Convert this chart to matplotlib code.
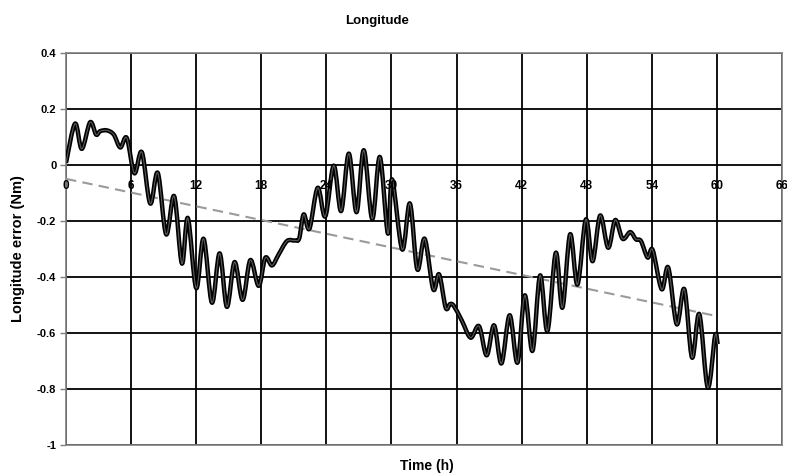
import numpy as np
import matplotlib.pyplot as plt
from matplotlib.path import Path
from matplotlib.patches import PathPatch

# Longitude error
time_h = [0, 0.83, 1.45, 2.22, 2.77, 3.14, 3.76, 4.4, 5.0, 5.6, 6.3, 6.99, 7.76, 8.46, 9.23,
          9.97, 10.68, 11.23, 12.0, 12.68, 13.45, 14.16, 14.83, 15.54, 16.28, 16.99, 17.76,
          18.37, 18.99, 19.6, 20.37, 21.1, 21.5, 21.91, 22.44, 23.2, 23.9, 24.68, 25.36,
          26.07, 26.78, 27.45, 28.23, 28.93, 29.67, 30.06, 30.99, 31.7, 32.38, 33.06, 33.85,
          34.39, 35.0, 35.4, 35.76, 36.5, 37.3, 38.07, 38.78, 39.46, 40.14, 40.9, 41.62, 42.29,
          43.0, 43.7, 44.38, 45.15, 45.76, 46.47, 47.15, 47.92, 48.54, 49.24, 49.98, 50.63,
          51.31, 52.01, 52.54, 53.0, 53.62, 54.08, 54.91, 55.52, 56.3, 57.0, 57.71, 58.38,
          59.16, 59.83, 60.07]
error_nm = [0.007, 0.147, 0.057, 0.152, 0.108, 0.12, 0.123, 0.108, 0.062, 0.096, -0.03, 0.045,
            -0.138, -0.029, -0.248, -0.112, -0.352, -0.19, -0.44, -0.264, -0.492, -0.316, -0.507,
            -0.347, -0.482, -0.34, -0.432, -0.332, -0.359, -0.32, -0.272, -0.27, -0.262, -0.177,
            -0.228, -0.082, -0.184, -0.003, -0.165, 0.04, -0.169, 0.052, -0.193, 0.028, -0.245,
            -0.052, -0.302, -0.138, -0.373, -0.264, -0.444, -0.391, -0.51, -0.497, -0.504, -0.557,
            -0.617, -0.576, -0.68, -0.573, -0.709, -0.537, -0.706, -0.466, -0.664, -0.395, -0.593,
            -0.314, -0.51, -0.248, -0.427, -0.195, -0.344, -0.181, -0.296, -0.197, -0.264, -0.24,
            -0.266, -0.272, -0.331, -0.304, -0.444, -0.367, -0.569, -0.444, -0.688, -0.533,
            -0.795, -0.611, -0.64]

# linear trend (grey dashed)
trend_x = [0, 60]
trend_y = [-0.05, -0.54]

x_ticks = list(range(0, 67, 6))
y_ticks = [-1, -0.8, -0.6, -0.4, -0.2, 0, 0.2, 0.4]
y_labels = ["-1", "-0.8", "-0.6", "-0.4", "-0.2", "0", "0.2", "0.4"]


def smooth_path(x, y):
    """Excel style smoothed line: Catmull-Rom segments as cubic Bezier curves."""
    pts = np.column_stack([x, y])
    n = len(pts)
    verts = [pts[0]]
    codes = [Path.MOVETO]
    for i in range(n - 1):
        p0 = pts[max(i - 1, 0)]
        p1 = pts[i]
        p2 = pts[i + 1]
        p3 = pts[min(i + 2, n - 1)]
        verts += [p1 + (p2 - p0) / 6, p2 - (p3 - p1) / 6, p2]
        codes += [Path.CURVE4] * 3
    return Path(verts, codes)


plt.rcParams['font.family'] = ['Liberation Sans', 'DejaVu Sans']
plt.rcParams['font.weight'] = 'bold'

fig = plt.figure(figsize=(7.87, 4.75), dpi=100)
ax = fig.add_axes([0.0839, 0.0632, 0.9097, 0.8257])

ax.plot(trend_x, trend_y, color="#9a9a9a", lw=1.5, dashes=(5, 3), zorder=3)
curve = smooth_path(time_h, error_nm)
ax.add_patch(PathPatch(curve, fill=False, edgecolor="black", lw=3.2, joinstyle="round", zorder=4))
ax.add_patch(PathPatch(curve, fill=False, edgecolor="#5a5a5a", lw=0.8, joinstyle="round", zorder=5))

ax.set_xlim(0, 66)
ax.set_ylim(-1, 0.4)
ax.set_xticks(x_ticks)
ax.set_yticks(y_ticks)
ax.set_yticklabels(y_labels)
ax.grid(True, color="black", lw=1.3)
ax.tick_params(axis="x", bottom=False, labelbottom=False)
ax.tick_params(axis="y", length=4, width=1, color="#808080", labelsize=8, pad=3)
for s in ax.spines.values():
    s.set_color("#808080")
    s.set_linewidth(1.2)

# x labels sit along the zero line, as in the original
for t in x_ticks:
    ax.annotate(str(t), xy=(t, 0), xytext=(0, -24), textcoords="offset pixels",
                ha="center", va="baseline", fontsize=8.5, fontweight="bold", zorder=6)

fig.text(0.479, 0.955, "Longitude", ha="center", va="center", fontsize=9.5, fontweight="bold")
fig.text(0.543, 0.019, "Time (h)", ha="center", va="center", fontsize=10, fontweight="bold")
fig.text(0.023, 0.476, "Longitude error (Nm)", ha="center", va="center", rotation=90,
         fontsize=10.5, fontweight="bold")

fig.savefig("out.png", dpi=100)
